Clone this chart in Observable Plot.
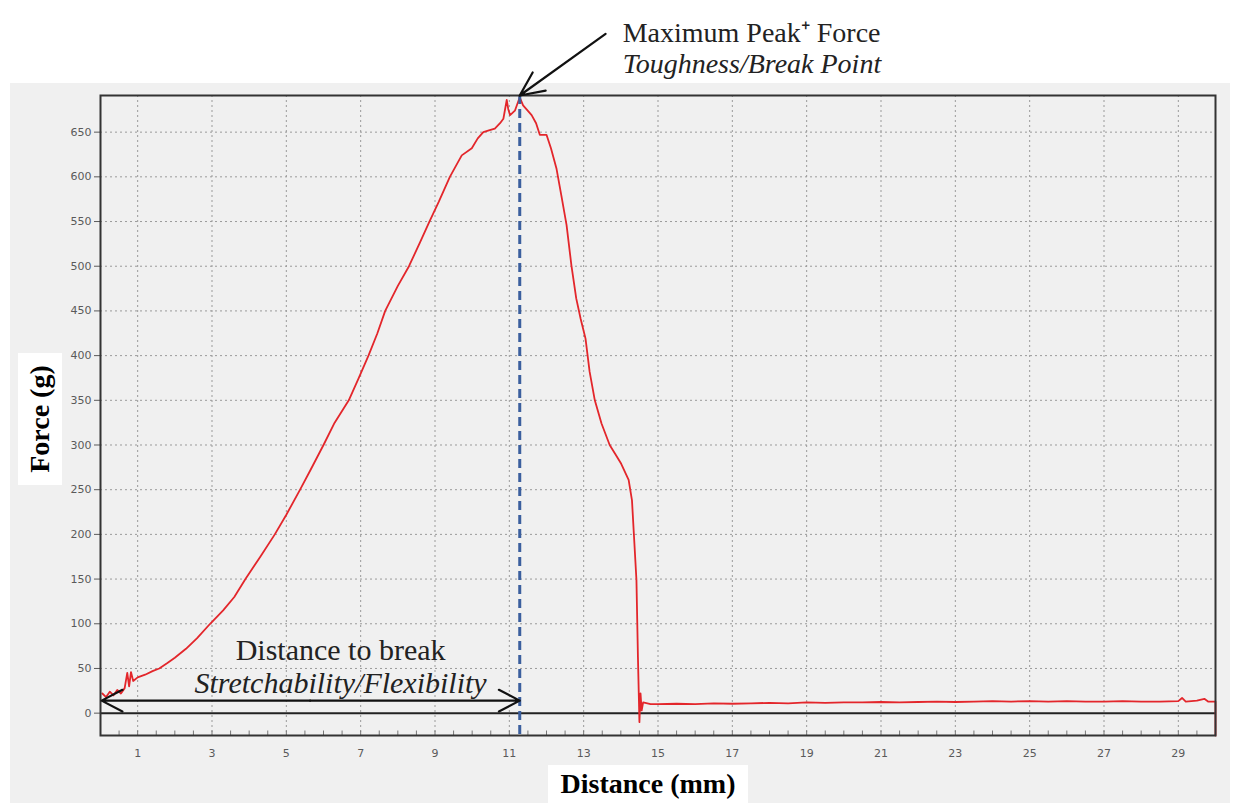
<!DOCTYPE html>
<html>
<head>
<meta charset="utf-8">
<script src="https://cdn.jsdelivr.net/npm/d3@7"></script>
<script src="https://cdn.jsdelivr.net/npm/@observablehq/plot@0.6"></script>
<style>
  html, body { margin: 0; padding: 0; background: #ffffff; }
  #wrap { position: relative; width: 1240px; height: 803px; overflow: hidden; }
  #panel { position: absolute; left: 10px; top: 83px; width: 1220px; height: 720px; background: #f0f0f0; }
  #chart { position: absolute; left: 0; top: 0; }
  .ylab { position: absolute; left: 18px; top: 353px; width: 44px; height: 132px; background: #fff;
          display: flex; align-items: center; justify-content: center; }
  .ylab span { transform: rotate(-90deg); white-space: nowrap; font-family: "Liberation Serif", serif;
               font-weight: bold; font-size: 28px; color: #000; }
  .xlab { position: absolute; left: 548px; top: 765px; width: 200px; height: 38px; background: #fff;
          font-family: "Liberation Serif", serif; font-weight: bold; font-size: 28px; color: #000;
          text-align: center; line-height: 38px; }
</style>
</head>
<body>
<div id="wrap">
  <div id="panel"></div>
  <div id="chart"></div>
  <div class="ylab"><span>Force (g)</span></div>
  <div class="xlab">Distance (mm)</div>
</div>
<script>
// ---- data ----
const distance = [
  0.05, 0.15, 0.25, 0.35, 0.45, 0.55, 0.65, 0.72, 0.77, 0.82, 0.88, 1.0, 1.2, 1.4, 1.58, 1.8, 2.0, 2.3, 2.6, 2.95,
  3.3, 3.6, 3.9, 4.3, 4.69, 5.0, 5.37, 5.65, 6.0, 6.3, 6.68, 6.95, 7.21, 7.45, 7.66, 8.0, 8.3, 8.6, 8.85, 9.1,
  9.4, 9.6, 9.72, 9.99, 10.15, 10.3, 10.45, 10.61, 10.75, 10.84, 10.93, 10.97, 11.02, 11.15, 11.28, 11.37, 11.6, 11.72, 11.82, 12.0,
  12.12, 12.27, 12.4, 12.54, 12.67, 12.8, 12.92, 13.05, 13.16, 13.3, 13.48, 13.7, 13.85, 14.01, 14.21, 14.3, 14.35, 14.42, 14.46, 14.5,
  14.53, 14.56, 14.6, 14.8, 15.0, 15.5, 16.0, 16.5, 17.0, 17.5, 18.0, 18.5, 19.0, 19.5, 20.0, 20.5, 21.0, 21.5, 22.0, 22.5,
  23.0, 23.5, 24.0, 24.5, 25.0, 25.5, 26.0, 26.5, 27.0, 27.5, 28.0, 28.5, 29.0, 29.1, 29.2, 29.5, 29.7, 29.8, 30.0, 30.0
];
const force = [
  22, 18, 24, 20, 26, 22, 28, 45, 30, 46, 36, 40, 43, 47, 50, 56, 62, 72, 84, 100,
  115, 130, 150, 175, 200, 222, 250, 272, 300, 325, 350, 375, 400, 425, 450, 478, 500, 527, 550, 572,
  600, 615, 624, 632, 643, 650, 652, 654, 660, 665, 686, 676, 669, 674, 689, 680, 669, 660, 647, 647,
  632, 609, 579, 546, 501, 464, 441, 419, 382, 350, 324, 300, 290, 279, 261, 238, 201, 149, 63, -10,
  22, 3, 12, 10, 10, 10.5, 10, 11, 10.5, 11, 11.5, 11, 12, 11.5, 12, 12, 12.5, 12, 12.5, 13,
  12.5, 13, 13.5, 13, 13.5, 13, 13.5, 13, 13, 13.5, 13, 13, 13.5, 17, 13, 14, 16, 13, 13, -25
];
const xTickValues = [1, 3, 5, 7, 9, 11, 13, 15, 17, 19, 21, 23, 25, 27, 29];
const xMinorTicks = d3.range(0.5, 30, 0.5);
const yTickValues = [0, 50, 100, 150, 200, 250, 300, 350, 400, 450, 500, 550, 600, 650];
const xDomain = [0, 30];
const yDomain = [-25, 691];

const peakDistance = 11.28;   // mm, maximum peak force position
const peakForce = 691;        // g (top of frame)
const breakArrowForce = 14;   // g, level of "distance to break" arrow

// annotation texts
const peakLabel = ["Maximum Peak\u207A Force", "Toughness/Break Point"];
const peakLabelX = [14.05, 14.05];
const peakLabelY = [751, 716];
const peakLabelStyle = ["normal", "italic"];
const breakLabel = ["Distance to break", "Stretchability/Flexibility"];
const breakLabelX = [6.46, 6.46];
const breakLabelY = [59, 22];
const breakLabelStyle = ["normal", "italic"];
const peakArrowFrom = [13.59, 760];

// ---- build tables ----
const curve = distance.map((d, i) => ({distance: d, force: force[i]}));
const peakTexts = peakLabel.map((t, i) => ({text: t, x: peakLabelX[i], y: peakLabelY[i], style: peakLabelStyle[i]}));
const breakTexts = breakLabel.map((t, i) => ({text: t, x: breakLabelX[i], y: breakLabelY[i], style: breakLabelStyle[i]}));
const mid = (xDomain[0] + peakDistance) / 2;
const breakArrows = [
  {x1: mid, x2: 0.03, y: breakArrowForce},
  {x1: mid, x2: peakDistance, y: breakArrowForce}
];

const gridStyle = {stroke: "#9a9a9a", strokeOpacity: 1, strokeWidth: 1, strokeDasharray: "2,3"};
const serif = "Liberation Serif, Times New Roman, serif";

const chart = Plot.plot({
  width: 1240,
  height: 803,
  marginLeft: 100,
  marginRight: 25,
  marginTop: 95,
  marginBottom: 68,
  style: {background: "transparent", color: "#5a5a5a", fontSize: "11px", fontFamily: "DejaVu Sans, sans-serif", overflow: "visible"},
  x: {domain: xDomain, ticks: xTickValues, tickFormat: d => String(d), tickSize: 0, tickPadding: 14, label: null},
  y: {domain: yDomain, ticks: yTickValues, tickFormat: d => String(d), tickSize: 6, tickPadding: 3, label: null},
  marks: [
    Plot.ruleX(xTickValues, gridStyle),
    Plot.ruleY(yTickValues.filter(v => v > 0), gridStyle),
    Plot.ruleX(xMinorTicks, {y1: yDomain[0], y2: yDomain[0] + 5, stroke: "#777", strokeWidth: 1}),
    Plot.ruleY([0], {stroke: "#222", strokeWidth: 2}),
    Plot.line(curve, {x: "distance", y: "force", stroke: "#e3262b", strokeWidth: 1.8, curve: "linear"}),
    Plot.ruleX([peakDistance], {stroke: "#3b5f9e", strokeWidth: 3, strokeDasharray: "9,5"}),
    Plot.frame({stroke: "#333", strokeWidth: 2}),
    Plot.arrow([{x1: peakArrowFrom[0], y1: peakArrowFrom[1], x2: peakDistance, y2: peakForce}],
      {x1: "x1", y1: "y1", x2: "x2", y2: "y2", stroke: "#111", strokeWidth: 2.2, headLength: 18, headAngle: 50}),
    Plot.arrow(breakArrows, {x1: "x1", y1: "y", x2: "x2", y2: "y", stroke: "#111", strokeWidth: 2.2, headLength: 16, headAngle: 55}),
    Plot.text(peakTexts.filter(d => d.style === "normal"), {x: "x", y: "y", text: "text", textAnchor: "start", lineAnchor: "bottom",
      fontFamily: serif, fontSize: 28, fill: "#222"}),
    Plot.text(peakTexts.filter(d => d.style === "italic"), {x: "x", y: "y", text: "text", textAnchor: "start", lineAnchor: "bottom",
      fontFamily: serif, fontSize: 28, fontStyle: "italic", fill: "#222"}),
    Plot.text(breakTexts.filter(d => d.style === "normal"), {x: "x", y: "y", text: "text", textAnchor: "middle", lineAnchor: "bottom",
      fontFamily: serif, fontSize: 30, fill: "#222"}),
    Plot.text(breakTexts.filter(d => d.style === "italic"), {x: "x", y: "y", text: "text", textAnchor: "middle", lineAnchor: "bottom",
      fontFamily: serif, fontSize: 30, fontStyle: "italic", fill: "#222"})
  ]
});
document.getElementById("chart").appendChild(chart);
</script>
</body>
</html>
